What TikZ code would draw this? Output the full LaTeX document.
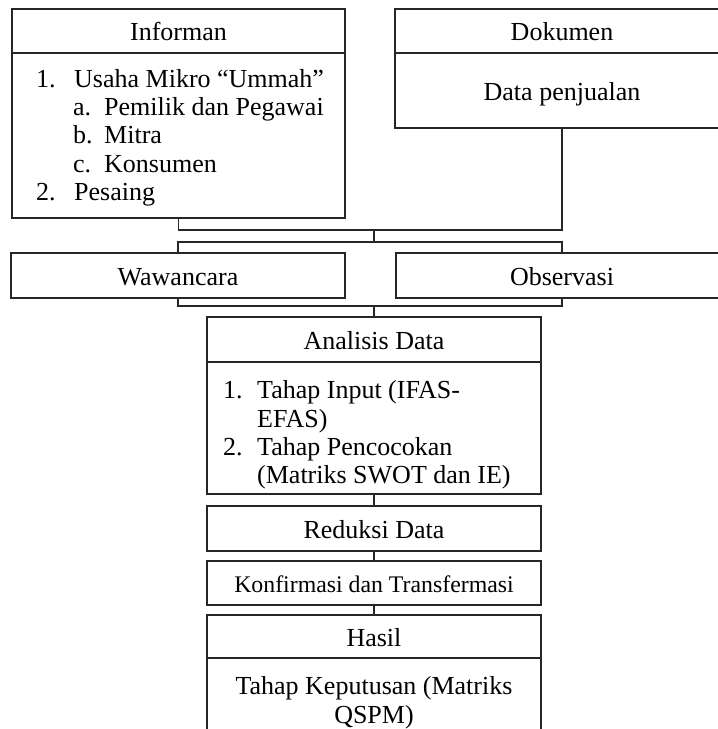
\documentclass[tikz,border=0pt]{standalone}
\usepackage{fontspec}
\setmainfont{Liberation Serif}
\begin{document}
\begin{tikzpicture}[x=1pt,y=-1pt,
  box/.style={draw=black!85,line width=1.1pt,rectangle,inner sep=0pt,text height=19pt,text depth=0pt,font=\fontsize{26}{29}\selectfont},
  txt/.style={inner sep=0pt,anchor=base west,font=\fontsize{26}{29}\selectfont},
  ctxt/.style={inner sep=0pt,anchor=base,font=\fontsize{26}{29}\selectfont},
  conn/.style={draw=black!85,line width=1.1pt}]
\useasboundingbox (0,0) rectangle (718,729);
\clip (0,0) rectangle (718,729);
% Informan
\node[box,minimum width=333pt,minimum height=44pt] (infH) at (178.5,31) {Informan};
\node[box,minimum width=333pt,minimum height=165pt] (infB) at (178.5,135.5) {};
\node[txt] (i1n) at (36,87) {1.};
\node[txt] (i1t) at (74,87) {Usaha Mikro “Ummah”};
\node[txt] (iAn) at (73,115) {a.};
\node[txt] (iAt) at (104,115) {Pemilik dan Pegawai};
\node[txt] (iBn) at (73,143) {b.};
\node[txt] (iBt) at (104,143) {Mitra};
\node[txt] (iCn) at (73,172) {c.};
\node[txt] (iCt) at (104,172) {Konsumen};
\node[txt] (i2n) at (36,200) {2.};
\node[txt] (i2t) at (74,200) {Pesaing};
% Dokumen
\node[box,minimum width=334pt,minimum height=44pt] (dokH) at (562,31) {Dokumen};
\node[box,minimum width=334pt,minimum height=75pt] (dokB) at (562,90.5) {Data penjualan};
% Wawancara / Observasi
\node[box,minimum width=334pt,minimum height=45pt] (waw) at (178,275.5) {Wawancara};
\node[box,minimum width=332pt,minimum height=45pt] (obs) at (562,275.5) {Observasi};
% Analisis
\node[box,minimum width=334pt,minimum height=45pt] (anaH) at (374,339.5) {Analisis Data};
\node[box,minimum width=334pt,minimum height=132pt] (anaB) at (374,428) {};
\node[txt] (a1n) at (223,398) {1.};
\node[txt] (a1t) at (257,398) {Tahap Input (IFAS-};
\node[txt] (a1u) at (257,427) {EFAS)};
\node[txt] (a2n) at (223,455) {2.};
\node[txt] (a2t) at (257,455) {Tahap Pencocokan};
\node[txt] (a2u) at (257,483) {(Matriks SWOT dan IE)};
% Reduksi, Konfirmasi
\node[box,minimum width=334pt,minimum height=45pt] (red) at (374,528.5) {Reduksi Data};
\node[box,minimum width=334pt,minimum height=44pt,font=\fontsize{23.8}{27}\selectfont] (konf) at (374,583) {Konfirmasi dan Transfermasi};
% Hasil
\node[box,minimum width=334pt,minimum height=43pt] (hasH) at (374,636.5) {Hasil};
\node[box,minimum width=334pt,minimum height=102pt] (hasB) at (374,709) {};
\node[ctxt] (h1) at (374,694) {Tahap Keputusan (Matriks};
\node[ctxt] (h2) at (374,723) {QSPM)};
% junctions
\coordinate (j1) at (374,230);
\coordinate (j2) at (374,242);
\coordinate (j3) at (374,306);
% connectors
\draw[conn] (infB.south) |- (j1) -| (dokB.south);
\draw[conn] (j1) -- (j2);
\draw[conn] (waw.north) |- (j2) -| (obs.north);
\draw[conn] (waw.south) |- (j3) -| (obs.south);
\draw[conn] (j3) -- (anaH.north);
\draw[conn] (anaB.south) -- (red.north);
\draw[conn] (red.south) -- (konf.north);
\draw[conn] (konf.south) -- (hasH.north);
\end{tikzpicture}
\end{document}
